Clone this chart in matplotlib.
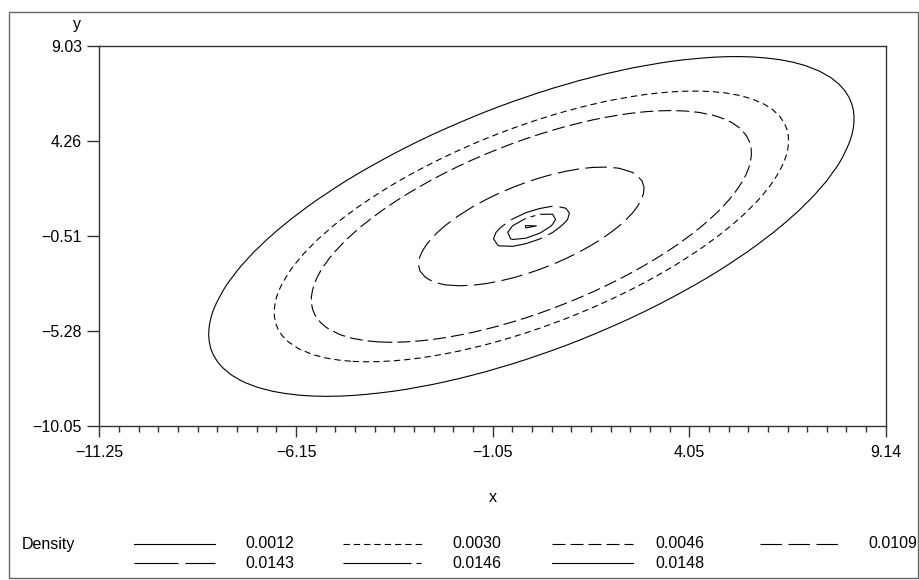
import numpy as np
import matplotlib
matplotlib.use("Agg")
import matplotlib.pyplot as plt
from matplotlib.lines import Line2D
from matplotlib.patches import Rectangle

plt.rcParams['font.family'] = ['Liberation Sans', 'DejaVu Sans']
plt.rcParams['lines.scale_dashes'] = False

# ---- data ----
levels = [0.0012, 0.0030, 0.0046, 0.0109, 0.0143, 0.0146, 0.0148]
level_labels = ['0.0012', '0.0030', '0.0046', '0.0109', '0.0143', '0.0146', '0.0148']
x_ticks = [-11.25, -6.15, -1.05, 4.05, 9.14]
y_ticks = [9.03, 4.26, -0.51, -5.28, -10.05]
x_tick_labels = ['\u221211.25', '\u22126.15', '\u22121.05', '4.05', '9.14']
y_tick_labels = ['9.03', '4.26', '\u22120.51', '\u22125.28', '\u221210.05']
# estimated density surface (bivariate, read from contour extents)
peak_density = 0.01483
mean_x, mean_y = -0.05, -0.05
sd_x, sd_y = 3.73, 3.80
rho = 0.635
grid_n = 60

# ---- styles ----
px = 0.72  # points per pixel at dpi 100
styles = [
    '-',
    (0, (6.3 * px, 4.0 * px)),
    (0, (13 * px, 5 * px)),
    (0, (21.5 * px, 6.5 * px)),
    (0, (44 * px, 7 * px)),
    (0, (68 * px, 5 * px, 5 * px, 5 * px)),
    '-',
]
lw = 0.8

fig = plt.figure(figsize=(9.2, 5.8), dpi=100)
W, H = 920, 580
ax = fig.add_axes([99.5 / W, 1 - 425.7 / H, (885.7 - 99.5) / W, (425.7 - 45.5) / H])

gx = np.linspace(x_ticks[0], x_ticks[-1], grid_n)
gy = np.linspace(y_ticks[-1], y_ticks[0], grid_n)
X, Y = np.meshgrid(gx, gy)
u = (X - mean_x) / sd_x
v = (Y - mean_y) / sd_y
Q = (u ** 2 - 2 * rho * u * v + v ** 2) / (1 - rho ** 2)
Z = peak_density * np.exp(-0.5 * Q)

ax.contour(X, Y, Z, levels=levels, colors='black', linewidths=lw, linestyles=styles)

ax.set_xlim(x_ticks[0], x_ticks[-1])
ax.set_ylim(y_ticks[-1], y_ticks[0])
ax.set_xticks(x_ticks)
ax.set_xticklabels(x_tick_labels)
ax.set_yticks(y_ticks)
ax.set_yticklabels(y_tick_labels)
minor = []
for a, b in zip(x_ticks[:-1], x_ticks[1:]):
    minor.extend(np.linspace(a, b, 11)[1:-1])
ax.set_xticks(minor, minor=True)
axis_col = '#333333'
for s in ax.spines.values():
    s.set_color(axis_col)
    s.set_linewidth(1.0)
ax.tick_params(axis='x', which='major', direction='out', length=11 * px, width=1.0,
               color=axis_col, labelsize=11.5, pad=6)
ax.tick_params(axis='x', which='minor', direction='out', length=6 * px, width=1.0, color=axis_col)
ax.tick_params(axis='y', which='major', direction='out', length=12 * px, width=1.0,
               color=axis_col, labelsize=11.5, pad=4)

fig.text(492.6 / W, 1 - 498 / H, 'x', ha='center', va='center', fontsize=11.5)
fig.text(77 / W, 1 - 24 / H, 'y', ha='center', va='center', fontsize=11.5)

# outer frame
fig.add_artist(Rectangle((9 / W, 1 - 578 / H), (918 - 9) / W, (578 - 12) / H,
                         transform=fig.transFigure, fill=False, edgecolor='#666666', linewidth=1.0))

# legend
fig.text(22 / W, 1 - 544 / H, 'Density', ha='left', va='center', fontsize=11.5)
sample_left = [134, 343, 552, 760]
label_left = [245, 452, 655, 868]
for i, (lab, st) in enumerate(zip(level_labels, styles)):
    r, c = divmod(i, 4)
    yy = 1 - (544 + 19 * r) / H
    x0 = sample_left[c]
    fig.add_artist(Line2D([x0 / W, (x0 + 81) / W], [yy, yy], transform=fig.transFigure,
                          color='black', linewidth=lw, linestyle=st))
    fig.text(label_left[c] / W, yy, lab, ha='left', va='center', fontsize=11.5)

fig.savefig('out.png', dpi=100)
